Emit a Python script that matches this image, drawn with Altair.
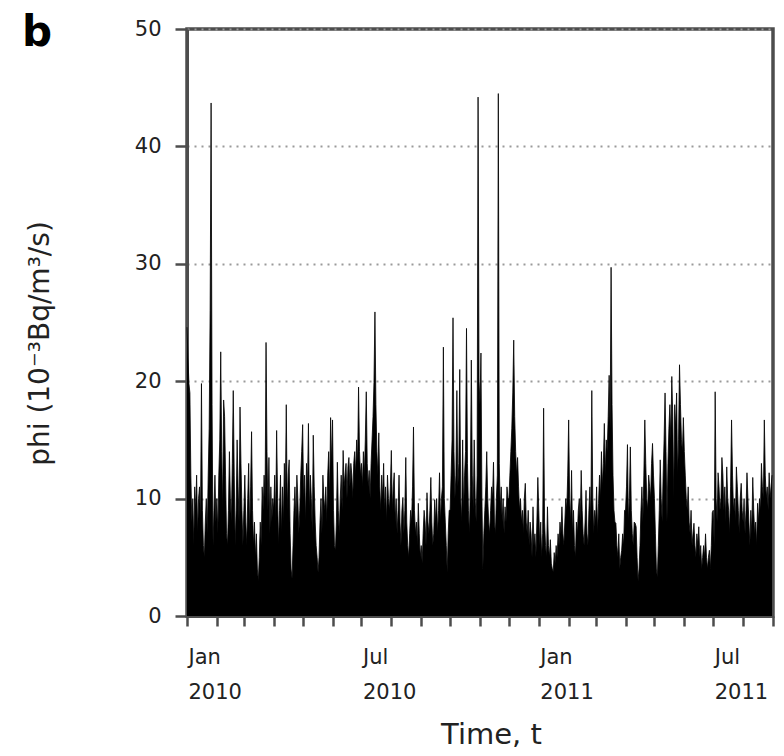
import altair as alt
import pandas as pd

# daily phi values (10^-3 Bq/m^3/s), Jan 2010 - Aug 2011
jan10 = [24.6, 22, 19.8, 19, 12, 8, 10, 6, 11, 9, 12, 7, 10, 11, 8, 19.8, 9, 6, 5, 8, 10, 7, 12, 16, 26, 43.7, 18, 6, 9, 12, 8]
feb10 = [10, 7, 12, 15, 22.5, 14, 9, 18.4, 17, 12, 7, 6, 9, 14, 10, 8, 13, 19.2, 12, 6, 9, 15, 11, 8, 17.8, 13, 9, 6]
mar10 = [9, 12, 8, 6, 10, 13, 7, 11, 15.7, 9, 6, 8, 5, 7, 4, 3, 5, 8, 6, 11, 9, 12, 10, 23.3, 14, 9, 13.5, 7, 11, 8, 10]
apr10 = [9, 12, 8, 15.8, 10, 6, 9, 12, 7, 11, 8, 13, 10, 18, 9, 12, 13.3, 7, 4, 3.2, 6, 9, 11, 8, 12, 10, 7, 9, 12, 14]
may10 = [16.3, 10, 12, 8, 13, 11, 16.4, 9, 12, 10, 7, 15.4, 11, 8, 6, 5, 3.7, 5, 8, 10, 7, 12, 10, 9, 11, 8, 12, 14, 10, 16.9, 13]
jun10 = [16.7, 9, 6, 5.6, 8, 13.1, 9, 7, 10, 12, 9, 14.1, 11, 12, 13, 10, 12.7, 13.5, 11, 13, 12, 10, 13, 14, 12, 15, 13, 19.5, 14, 12]
jul10 = [13, 11, 14, 12, 15, 19.1, 13, 11, 12.4, 10, 13, 15, 17, 19.9, 25.9, 18, 14, 12, 15.6, 11, 9, 12, 10, 13, 9, 11, 8, 12, 10, 9, 11]
aug10 = [14.1, 9, 11, 12.2, 8, 10, 7, 9, 12, 8, 6, 9, 10.1, 7, 9, 13.5, 8, 6, 5, 7, 9, 8, 11, 16.1, 9, 7, 8, 6, 9.6, 7, 5]
sep10 = [6, 4.5, 7, 9, 8, 6, 10.5, 8, 7, 9, 11.8, 8, 6, 7, 9.9, 8, 10, 7, 9, 12.2, 8, 10, 11, 22.9, 10, 8, 6, 3.7, 7, 9]
oct10 = [9, 12, 15, 25.4, 14, 10, 12, 19.2, 11, 13, 21, 10, 8, 15, 9, 12, 14, 24.5, 13, 9, 7, 11, 21.8, 12, 9, 15, 10, 8, 12, 44.2, 20]
nov10 = [18, 22.4, 10, 4, 7, 9, 11, 14, 10, 8, 7, 9, 11, 10, 13.1, 8, 7, 10, 12, 44.5, 13, 9, 11, 8, 10, 7, 9.3, 8, 11, 10]
dec10 = [10, 12, 14, 16, 19, 23.5, 17, 14, 12, 13.5, 11, 9, 10, 8, 9, 7, 10, 11.3, 8, 7, 9, 6, 8, 7, 5, 9.3, 6, 7, 5, 8, 11.8]
jan11 = [9, 6, 8, 5, 7, 17.7, 8, 6, 5, 9.3, 6, 5, 6.5, 4.5, 4, 3.8, 5.4, 4.5, 6, 5, 7, 6, 8, 7, 9.3, 7, 6, 8, 10, 9, 12]
feb11 = [16.7, 10, 8, 12.4, 7, 9, 6, 5, 8, 7, 9, 10, 8, 12.4, 9, 7, 6, 8, 10.7, 7, 6, 9, 11, 8, 19.2, 10, 7, 9]
mar11 = [8, 11, 7, 9.6, 12, 10, 14, 11, 13, 16.4, 12, 15, 14, 17, 20.5, 16, 29.7, 18, 12, 9, 8, 7.9, 6, 5, 7, 4, 5, 5.6, 7, 6, 9]
apr11 = [9, 11, 14.6, 8, 10, 14.4, 9, 7, 6, 8, 7.9, 7.6, 5, 3, 4, 6, 9, 11, 8, 12, 16.7, 13, 10, 9, 12, 11, 10, 13, 14.7, 12]
may11 = [10, 7, 4, 3.3, 6, 9, 13.3, 10, 8, 12, 15, 19, 14, 8, 13, 16, 18, 15, 20.4, 17, 10, 18, 16, 19, 12, 15, 21.4, 18, 15, 14, 16.9]
jun11 = [14, 12, 10, 9, 11, 8, 7, 9, 6, 7, 7.9, 6, 5, 7, 6, 7.6, 5, 6, 4, 5, 6, 5, 7, 5, 4, 5, 5.6, 4, 6, 8.8]
jul11 = [9, 6, 19.1, 10, 8, 12.2, 11, 9, 10, 13.5, 12, 9, 11, 8, 12.7, 10, 9, 7, 11, 16.7, 12, 9, 10, 8, 12.7, 11, 9, 7, 10, 11.3, 9]
aug11 = [8, 10, 7, 9, 12.2, 10, 8, 6, 9, 7, 11.8, 9, 7, 8, 6, 9.6, 8, 10, 9, 13, 11, 10, 16.7, 12, 10, 11, 9, 12.2, 10, 11, 12]

values = (jan10 + feb10 + mar10 + apr10 + may10 + jun10 + jul10 + aug10 + sep10
          + oct10 + nov10 + dec10 + jan11 + feb11 + mar11 + apr11 + may11 + jun11
          + jul11 + aug11)
dates = pd.date_range("2010-01-01", periods=len(values), freq="D").strftime("%Y-%m-%dT00:00:00")
df = pd.DataFrame({"date": list(dates), "phi": values})

y_ticks = [0, 10, 20, 30, 40, 50]
month_ticks = []
for yr, months in [(2010, range(1, 13)), (2011, range(1, 10))]:
    for m in months:
        month_ticks.append(alt.DateTime(year=yr, month=m, date=1))

FONT = "DejaVu Sans"
TXT = "#222222"
FRAME = "#4d4d4d"

x_enc = alt.X(
    "date:T",
    scale=alt.Scale(domain=[alt.DateTime(year=2010, month=1, date=1),
                            alt.DateTime(year=2011, month=9, date=1)], nice=False),
    axis=alt.Axis(
        values=month_ticks, tickCount=40,
        labelExpr="month(datum.value)==0 ? ['Jan', timeFormat(datum.value,'%Y')] : (month(datum.value)==6 ? ['Jul', timeFormat(datum.value,'%Y')] : '')",
        labelOverlap=False, labelFlush=False, labelBound=False,
        labelAlign="left", labelBaseline="top", labelPadding=20, labelLineHeight=35,
        labelFontSize=21, labelFont=FONT, labelColor=TXT, labelOffset=1,
        tickSize=10, tickWidth=2.5, tickColor=FRAME,
        domainColor=FRAME, domainWidth=3, grid=False,
        title="Time, t", titleFontSize=29, titleFont=FONT, titleColor=TXT,
        titleFontWeight="normal", titleX=304, titleY=127,
        titleAlign="center", titleBaseline="alphabetic",
    ),
)

y_enc = alt.Y(
    "phi:Q",
    scale=alt.Scale(domain=[0, 50], nice=False),
    axis=alt.Axis(
        values=y_ticks, tickCount=10, labelFontSize=21, labelFont=FONT, labelColor=TXT,
        labelPadding=14, tickSize=12, tickWidth=2.5, tickColor=FRAME,
        domainColor=FRAME, domainWidth=3,
        grid=True, gridDash=[2, 5], gridColor="#9a9a9a", gridWidth=2,
        title="phi (10⁻³Bq/m³/s)", titleFontSize=28, titleFont=FONT, titleColor=TXT,
        titleFontWeight="normal", titleX=-147, titleY=314,
        titleAlign="center", titleBaseline="middle",
    ),
)

area = alt.Chart(df).mark_area(color="black", interpolate="linear").encode(x=x_enc, y=y_enc)
line = alt.Chart(df).mark_line(color="black", strokeWidth=0.8, interpolate="linear").encode(
    x="date:T", y="phi:Q")

label_df = pd.DataFrame({"t": ["b"]})
panel = alt.Chart(label_df).mark_text(
    fontSize=42, fontWeight="bold", font=FONT, color="black",
    align="left", baseline="alphabetic",
).encode(x=alt.value(-165), y=alt.value(17), text="t:N")

chart = alt.layer(area, line, panel).properties(
    width=586, height=587,
    padding={"left": 187, "top": 29, "right": 11, "bottom": 140},
    autosize=alt.AutoSizeParams(type="none"),
    background="white",
).configure_view(stroke=FRAME, strokeWidth=3.5)

chart.save("out.html", embed_options={"renderer": "svg", "actions": False})
